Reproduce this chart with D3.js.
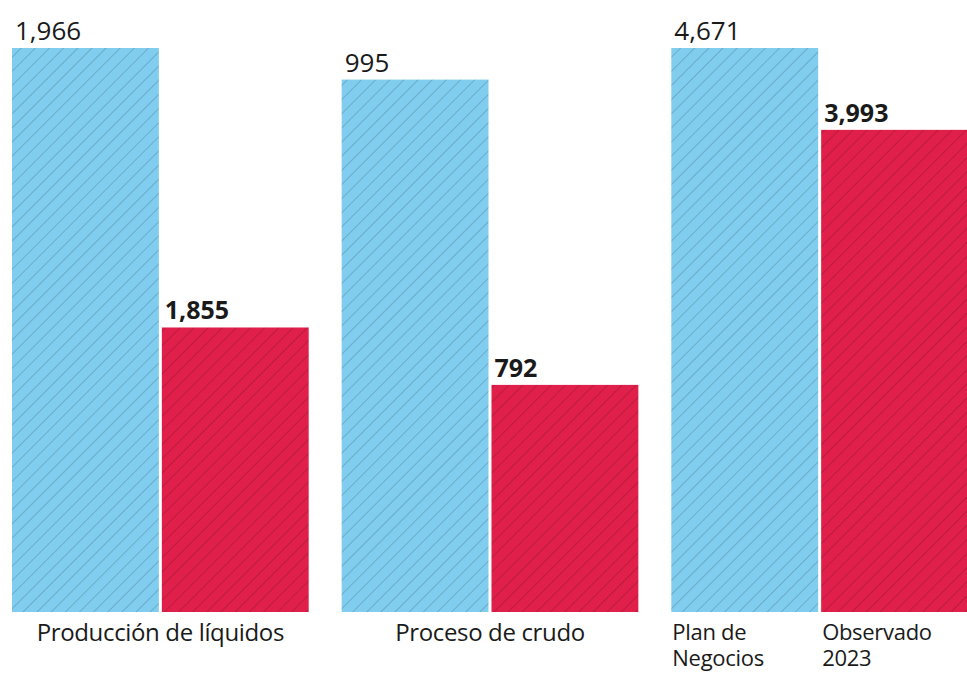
<!DOCTYPE html>
<html>
<head>
<meta charset="utf-8">
<script src="https://cdn.jsdelivr.net/npm/d3@7"></script>
<style>
  html, body { margin: 0; padding: 0; background: #fff; }
  svg { display: block; font-family: "Open Sans", "Noto Sans", sans-serif; }
</style>
</head>
<body>
<svg id="chart" width="967" height="674"></svg>
<script>
// ---- data ----
const groups = ["Producción de líquidos", "Proceso de crudo", "Total"];
const series = ["Plan de Negocios", "Observado 2023"];
const planValues = [1966, 995, 4671];
const observedValues = [1855, 792, 3993];
const valueLabelsPlan = ["1,966", "995", "4,671"];
const valueLabelsObs = ["1,855", "792", "3,993"];
// per-group value axis (as drawn in the source graphic)
const domainMin = [1742, 641, 0];
const domainMax = [1966, 1016, 4671];
const groupLabels = ["Producción de líquidos", "Proceso de crudo", ""];
const seriesLabelLines = [["Plan de", "Negocios"], ["Observado", "2023"]];

// ---- layout ----
const W = 967, H = 674;
const baseY = 612, topY = 48;
const colors = ["#80cdef", "#e0204a"];

const svg = d3.select("#chart");
const defs = svg.append("defs");
colors.forEach((c, i) => {
  const p = defs.append("pattern")
    .attr("id", "hatch" + i)
    .attr("patternUnits", "userSpaceOnUse")
    .attr("width", 10).attr("height", 10)
    .attr("patternTransform", "rotate(45)");
  p.append("rect").attr("width", 10).attr("height", 10).attr("fill", c);
  p.append("line").attr("x1", 0).attr("y1", 0).attr("x2", 0).attr("y2", 10)
    .attr("stroke", "rgba(0,0,0,0.32)").attr("stroke-width", 1);
});

const x0 = d3.scaleBand().domain(groups).range([12, 968]).paddingInner(0.1);
const x1 = d3.scaleBand().domain(series).range([0, x0.bandwidth()]).paddingInner(0.02);

const rows = groups.map((g, i) => ({
  group: g, i,
  y: d3.scaleLinear().domain([domainMin[i], domainMax[i]]).range([baseY, topY]),
  vals: [
    { s: series[0], v: planValues[i], label: valueLabelsPlan[i], k: 0 },
    { s: series[1], v: observedValues[i], label: valueLabelsObs[i], k: 1 }
  ]
}));

const gGroup = svg.selectAll("g.grp").data(rows).join("g")
  .attr("class", "grp")
  .attr("transform", d => `translate(${x0(d.group)},0)`);

gGroup.each(function(d) {
  const g = d3.select(this);
  g.selectAll("rect.bar").data(d.vals).join("rect")
    .attr("class", "bar")
    .attr("x", v => x1(v.s))
    .attr("width", x1.bandwidth())
    .attr("y", v => d.y(v.v))
    .attr("height", v => baseY - d.y(v.v))
    .attr("fill", v => `url(#hatch${v.k})`);

  g.selectAll("text.val").data(d.vals).join("text")
    .attr("class", "val")
    .attr("x", v => x1(v.s) + 3)
    .attr("y", v => d.y(v.v) - 8)
    .attr("font-size", v => v.k === 1 ? 25 : 26)
    .attr("font-weight", v => v.k === 1 ? 700 : 400)
    .attr("fill", "#1a1a1a")
    .text(v => v.label);

  if (groupLabels[d.i]) {
    g.append("text")
      .attr("x", x0.bandwidth() / 2)
      .attr("y", 641)
      .attr("text-anchor", "middle")
      .attr("font-size", 24)
      .attr("letter-spacing", -0.35)
      .attr("fill", "#1a1a1a")
      .text(groupLabels[d.i]);
  } else {
    series.forEach((s, k) => {
      seriesLabelLines[k].forEach((line, li) => {
        g.append("text")
          .attr("x", x1(s) + 1)
          .attr("y", 640 + li * 26)
          .attr("font-size", 22)
          .attr("letter-spacing", -0.3)
          .attr("fill", "#1a1a1a")
          .text(line);
      });
    });
  }
});
</script>
</body>
</html>
